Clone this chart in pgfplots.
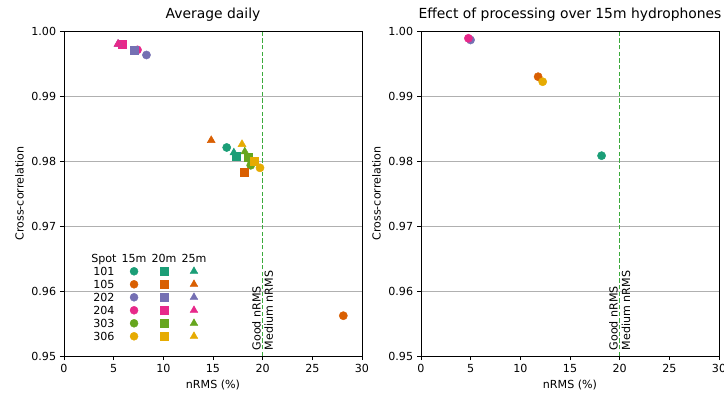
\documentclass[border=0pt]{standalone}
\usepackage{fontspec}
\setmainfont{DejaVu Sans}
\usepackage{pgfplots}
\pgfplotsset{compat=1.18}
\definecolor{c101}{HTML}{1B9E77}
\definecolor{c105}{HTML}{D95F02}
\definecolor{c202}{HTML}{7570B3}
\definecolor{c204}{HTML}{E7298A}
\definecolor{c303}{HTML}{66A61E}
\definecolor{c306}{HTML}{E6AB02}
\definecolor{gridgray}{HTML}{B0B0B0}
\definecolor{vline}{RGB}{60,170,60}
\newcommand{\tfont}{\fontsize{10}{11.5}\selectfont}
\pgfplotsset{
  myaxis/.style={
    width=268.2pt, height=292.5pt, scale only axis,
    xmin=0, xmax=30, ymin=0.95, ymax=1.0,
    xtick={0,5,10,15,20,25,30},
    ytick={0.95,0.96,0.97,0.98,0.99,1.00},
    tick pos=left, tick align=outside, major tick length=3.6pt,
    ymajorgrids, grid style={color=gridgray, line width=0.7pt},
    axis line style={black, line width=0.7pt},
    every tick/.style={black, line width=0.7pt},
    ticklabel style={font=\tfont},
    label style={font=\tfont},
    title style={font=\fontsize{12.5}{14}\selectfont, yshift=-1pt},
    xlabel={nRMS (\%)}, ylabel={Cross-correlation},
    /pgf/number format/assume math mode=true,
    yticklabel style={/pgf/number format/.cd, fixed, fixed zerofill, precision=2},
    scaled y ticks=false,
    clip=false,
  },
  circ/.style={only marks, mark=*, mark size=3.7pt, color=#1, forget plot},
  sq/.style={only marks, mark=square*, mark size=3.6pt, color=#1, forget plot},
  tri/.style={only marks, mark=triangle*, mark size=4.1pt, color=#1, forget plot},
  legtext/.style={legend image code/.code={\node[inner sep=0pt, anchor=base, text height=7.5pt, text depth=2.3pt, font=\tfont] at (0pt,0pt) {#1};}},
  legmark/.style={only marks, legend image code/.code={\draw[##1] plot coordinates {(0pt,3.6pt)};}},
}
\begin{document}
\begin{tikzpicture}
\path[use as bounding box] (0pt,0pt) rectangle (651.6pt,-354.6pt);
\begin{axis}[myaxis, at={(57.6pt,-27.9pt)}, anchor=north west,
  title={Average daily},
  legend style={at={(axis cs:2.75,0.9657)}, anchor=north west, draw=none, fill=none,
    inner sep=0pt, outer sep=0pt, legend columns=4,
    nodes={inner sep=0pt, text height=7.5pt, text depth=2.3pt},
    row sep=-0.8pt, column sep=0pt,
    /tikz/every even column/.append style={column sep=3.5pt}},
  legend cell align=left]
% vertical threshold line
\addplot[vline, line width=1.3pt, dash pattern=on 4pt off 2pt, forget plot] coordinates {(20,0.95) (20,1.0)};
\node[rotate=90, anchor=south west, font=\tfont, inner sep=1.5pt] at (axis cs:20,0.9506) {Good nRMS};
\node[rotate=90, anchor=north west, font=\tfont, inner sep=1.5pt] at (axis cs:20,0.9506) {Medium nRMS};
% 15m circles
\addplot[circ=c101] coordinates {(16.38,0.98208)};
\addplot[circ=c105] coordinates {(28.12,0.95620)};
\addplot[circ=c202] coordinates {(8.30,0.99631)};
\addplot[circ=c204] coordinates {(7.40,0.99710)};
\addplot[circ=c303] coordinates {(18.80,0.97934)};
\addplot[circ=c306] coordinates {(19.73,0.97895)};
% 20m squares
\addplot[sq=c101] coordinates {(17.30,0.98077)};
\addplot[sq=c105] coordinates {(18.14,0.97823)};
\addplot[sq=c202] coordinates {(7.10,0.99708)};
\addplot[sq=c204] coordinates {(5.89,0.99800)};
\addplot[sq=c303] coordinates {(18.50,0.98054)};
\addplot[sq=c306] coordinates {(19.15,0.97997)};
% 25m triangles
\addplot[tri=c101] coordinates {(17.10,0.98128)};
\addplot[tri=c105] coordinates {(14.82,0.98318)};
\addplot[tri=c202] coordinates {(5.45,0.99800)};
\addplot[tri=c204] coordinates {(5.44,0.99800)};
\addplot[tri=c303] coordinates {(18.20,0.98143)};
\addplot[tri=c306] coordinates {(17.92,0.98257)};
% legend
\addlegendimage{legtext=Spot}\addlegendentry{}
\addlegendimage{legtext=15m}\addlegendentry{}
\addlegendimage{legtext=20m}\addlegendentry{}
\addlegendimage{legtext=25m}\addlegendentry{}
\addlegendimage{legtext=101}\addlegendentry{}
\addlegendimage{legmark, mark=*, mark size=3.6pt, c101}\addlegendentry{}
\addlegendimage{legmark, mark=square*, mark size=3.4pt, c101}\addlegendentry{}
\addlegendimage{legmark, mark=triangle*, mark size=4pt, c101}\addlegendentry{}
\addlegendimage{legtext=105}\addlegendentry{}
\addlegendimage{legmark, mark=*, mark size=3.6pt, c105}\addlegendentry{}
\addlegendimage{legmark, mark=square*, mark size=3.4pt, c105}\addlegendentry{}
\addlegendimage{legmark, mark=triangle*, mark size=4pt, c105}\addlegendentry{}
\addlegendimage{legtext=202}\addlegendentry{}
\addlegendimage{legmark, mark=*, mark size=3.6pt, c202}\addlegendentry{}
\addlegendimage{legmark, mark=square*, mark size=3.4pt, c202}\addlegendentry{}
\addlegendimage{legmark, mark=triangle*, mark size=4pt, c202}\addlegendentry{}
\addlegendimage{legtext=204}\addlegendentry{}
\addlegendimage{legmark, mark=*, mark size=3.6pt, c204}\addlegendentry{}
\addlegendimage{legmark, mark=square*, mark size=3.4pt, c204}\addlegendentry{}
\addlegendimage{legmark, mark=triangle*, mark size=4pt, c204}\addlegendentry{}
\addlegendimage{legtext=303}\addlegendentry{}
\addlegendimage{legmark, mark=*, mark size=3.6pt, c303}\addlegendentry{}
\addlegendimage{legmark, mark=square*, mark size=3.4pt, c303}\addlegendentry{}
\addlegendimage{legmark, mark=triangle*, mark size=4pt, c303}\addlegendentry{}
\addlegendimage{legtext=306}\addlegendentry{}
\addlegendimage{legmark, mark=*, mark size=3.6pt, c306}\addlegendentry{}
\addlegendimage{legmark, mark=square*, mark size=3.4pt, c306}\addlegendentry{}
\addlegendimage{legmark, mark=triangle*, mark size=4pt, c306}\addlegendentry{}
\end{axis}
\begin{axis}[myaxis, at={(378.9pt,-27.9pt)}, anchor=north west,
  title={Effect of processing over 15m hydrophones}]
\addplot[vline, line width=1.3pt, dash pattern=on 4pt off 2pt, forget plot] coordinates {(20,0.95) (20,1.0)};
\node[rotate=90, anchor=south west, font=\tfont, inner sep=1.5pt] at (axis cs:20,0.9506) {Good nRMS};
\node[rotate=90, anchor=north west, font=\tfont, inner sep=1.5pt] at (axis cs:20,0.9506) {Medium nRMS};
\addplot[circ=c101] coordinates {(18.18,0.98082)};
\addplot[circ=c105] coordinates {(11.79,0.99297)};
\addplot[circ=c202] coordinates {(4.99,0.99862)};
\addplot[circ=c204] coordinates {(4.77,0.99888)};
\addplot[circ=c306] coordinates {(12.25,0.99220)};
\end{axis}
\end{tikzpicture}
\end{document}
